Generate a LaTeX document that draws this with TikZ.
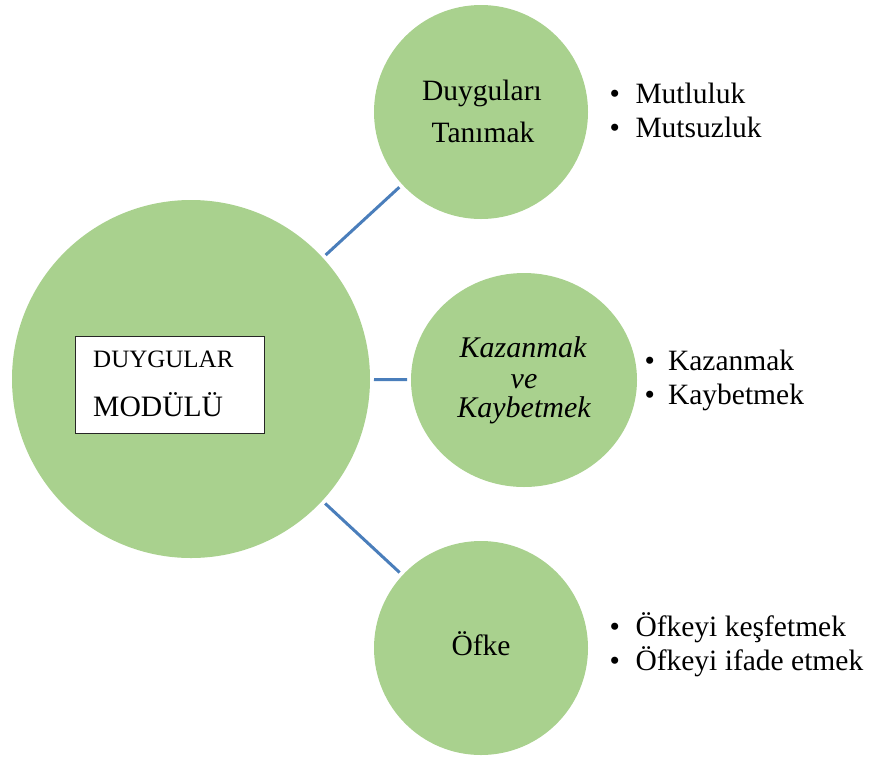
\documentclass[tikz,border=0pt]{standalone}
\usepackage{fontspec}
\setmainfont{Liberation Serif}
\usetikzlibrary{shapes.geometric}
\definecolor{bubblegreen}{HTML}{A9D18E}
\definecolor{linkblue}{HTML}{4A7EBB}
\begin{document}
\begin{tikzpicture}[x=1pt,y=-1pt,
  bubble/.style={circle, fill=bubblegreen, draw=none, inner sep=0pt, outer sep=0pt},
  ebubble/.style={ellipse, fill=bubblegreen, draw=none, inner sep=0pt, outer sep=0pt},
  link/.style={draw=linkblue, line width=3pt, shorten <=4pt, shorten >=4pt},
  lbl/.style={inner sep=0pt, anchor=base, font=\fontsize{29.5}{34}\selectfont},
  ilbl/.style={inner sep=0pt, anchor=base, font=\fontsize{30}{30}\selectfont\itshape},
  item/.style={inner sep=0pt, anchor=base west, font=\fontsize{29.5}{34}\selectfont},
  modbox/.style={draw=black!85, fill=white, line width=0.8pt, inner sep=0pt, minimum width=189pt, minimum height=97pt}
]
\useasboundingbox (0,0) rectangle (872,756);

% circles
\node[bubble, minimum size=358pt] (main) at (191,379) {};
\node[bubble, minimum size=214pt] (top) at (481,112) {};
\node[ebubble, minimum width=226pt, minimum height=214pt] (mid) at (524,380) {};
\node[bubble, minimum size=214pt] (bot) at (481,648) {};

% connectors
\draw[link] (main) -- (top);
\draw[link] (main) -- (mid);
\draw[link] (main) -- (bot);

% central box
\node[modbox] (box) at (169.5,384.5) {};
\node[inner sep=0pt, anchor=base west, font=\fontsize{25}{25}\selectfont] (duy) at (93,367) {DUYGULAR};
\node[inner sep=0pt, anchor=base west, font=\fontsize{29.6}{30}\selectfont] (mod) at (93,416) {MODÜLÜ};

% circle labels
\node[lbl] (t1) at (482,100) {Duyguları};
\node[lbl] (t2) at (483,142) {Tanımak};
\node[ilbl] (m1) at (523,357) {Kazanmak};
\node[ilbl] (m2) at (524,388) {ve};
\node[ilbl] (m3) at (524,417) {Kaybetmek};
\node[lbl] (b1) at (481,655) {Öfke};

% bullet lists
\node[item] (l1) at (609.5,103) {•\hspace{15.5pt}Mutluluk};
\node[item] (l2) at (609.5,137) {•\hspace{15.5pt}Mutsuzluk};
\node[item] (l3) at (644.5,370) {•\hspace{13pt}Kazanmak};
\node[item] (l4) at (644.5,404) {•\hspace{13pt}Kaybetmek};
\node[item] (l5) at (609.5,636) {•\hspace{15.5pt}Öfkeyi keşfetmek};
\node[item] (l6) at (609.5,670) {•\hspace{15.5pt}Öfkeyi ifade etmek};
\end{tikzpicture}
\end{document}
